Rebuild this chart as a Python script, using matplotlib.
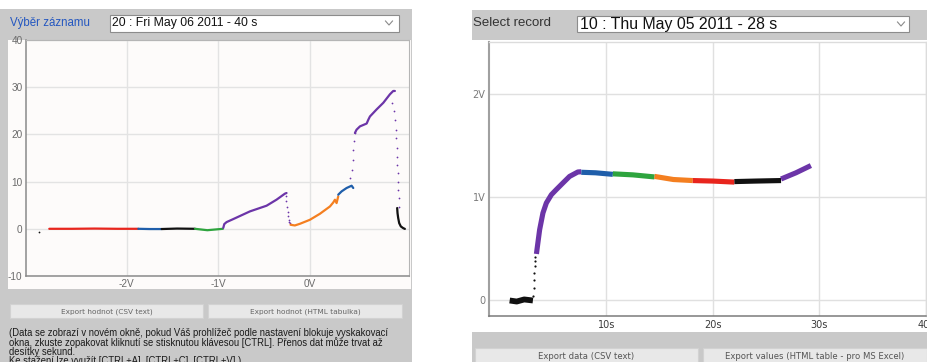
import matplotlib
matplotlib.use("Agg")
import matplotlib.pyplot as plt
from matplotlib.patches import Rectangle

W, H, DPI = 928, 362, 100

# ---------------- left record: 20 : Fri May 06 2011 - 40 s ----------------
# dense trace pieces (x in volts, y in measured units)
l_red_x = [-2.844, -2.60, -2.35, -2.10, -1.873]
l_red_y = [0.0, 0.0, 0.05, 0.0, 0.0]
l_blue_x = [-1.873, -1.75, -1.618]
l_blue_y = [0.0, -0.05, -0.05]
l_black_x = [-1.618, -1.45, -1.255]
l_black_y = [-0.05, 0.05, 0.0]
l_green_x = [-1.255, -1.12, -0.95]
l_green_y = [0.0, -0.3, 0.0]
l_purple_x = [-0.946, -0.935, -0.910, -0.837, -0.655, -0.474, -0.365, -0.274, -0.256]
l_purple_y = [0.2, 1.0, 1.42, 2.06, 3.69, 4.89, 6.17, 7.44, 7.58]
l_orange_x = [-0.212, -0.165, -0.110, -0.001, 0.108, 0.218, 0.254, 0.272, 0.290, 0.308]
l_orange_y = [0.85, 0.71, 1.06, 1.91, 3.18, 4.74, 5.59, 6.16, 5.45, 6.87]
l_blue2_x = [0.308, 0.345, 0.399, 0.454, 0.472]
l_blue2_y = [7.22, 7.93, 8.64, 9.13, 8.64]
l_purple2_x = [0.490, 0.508, 0.545, 0.618, 0.636, 0.654, 0.727, 0.800, 0.872, 0.908, 0.926]
l_purple2_y = [20.3, 21.0, 21.7, 22.3, 23.1, 23.8, 25.3, 26.7, 28.5, 29.2, 29.2]
l_black2_x = [0.951, 0.955, 0.962, 0.973, 0.991, 1.017, 1.035]
l_black2_y = [4.4, 3.3, 2.3, 1.2, 0.5, 0.14, -0.02]

# sparse samples (fast transitions)
l_dot_x = [-2.953]
l_dot_y = [-0.71]
l_fall_x = [-0.263, -0.257, -0.251, -0.245, -0.238, -0.232, -0.225, -0.219]
l_fall_y = [6.86, 5.8, 4.7, 3.6, 2.75, 1.9, 1.5, 1.2]
l_jump_x = [0.436, 0.454, 0.465, 0.472, 0.480, 0.490]
l_jump_y = [10.76, 12.5, 14.6, 16.8, 18.5, 20.3]
l_drop_x = [0.900, 0.915, 0.926, 0.933, 0.937, 0.944, 0.948, 0.951, 0.955, 0.959, 0.963, 0.966, 0.966]
l_drop_y = [26.7, 24.9, 23.1, 21.0, 19.2, 17.1, 15.3, 13.6, 11.8, 10.0, 8.3, 6.5, 4.7]

l_xticks = [-2, -1, 0]
l_xlabels = ["-2V", "-1V", "0V"]
l_yticks = [-10, 0, 10, 20, 30, 40]
l_ylabels = ["-10", "0", "10", "20", "30", "40"]

# ---------------- right record: 10 : Thu May 05 2011 - 28 s ----------------
r_black_x = [0.94, 1.6, 2.3, 3.12]
r_black_y = [0.0, -0.01, 0.01, 0.0]
r_rise_x = [3.15, 3.18, 3.22, 3.25, 3.28, 3.31, 3.34]
r_rise_y = [0.04, 0.12, 0.20, 0.265, 0.33, 0.38, 0.42]
r_purple_x = [3.45, 3.50, 3.75, 4.06, 4.38, 4.85, 5.31, 5.93, 6.56, 7.34, 7.66]
r_purple_y = [0.45, 0.49, 0.684, 0.846, 0.943, 1.023, 1.072, 1.136, 1.20, 1.243, 1.245]
r_blue_x = [7.66, 9.0, 10.62]
r_blue_y = [1.24, 1.235, 1.22]
r_green_x = [10.62, 12.5, 14.53]
r_green_y = [1.225, 1.215, 1.195]
r_orange_x = [14.53, 16.3, 18.12]
r_orange_y = [1.20, 1.17, 1.16]
r_red_x = [18.12, 20.0, 22.02]
r_red_y = [1.16, 1.155, 1.145]
r_black2_x = [22.02, 24.0, 26.4]
r_black2_y = [1.15, 1.155, 1.16]
r_purple2_x = [26.4, 27.8, 29.2]
r_purple2_y = [1.175, 1.235, 1.305]

r_xticks = [10, 20, 30, 40]
r_xlabels = ["10s", "20s", "30s", "40s"]
r_yticks = [0, 1, 2]
r_ylabels = ["0", "1V", "2V"]

RED, BLUE, BLACK, GREEN, PURPLE, ORANGE = "#e8251d", "#1f5eaa", "#111111", "#2ea43e", "#6c35a8", "#f47f20"
GRAY_BG = "#c9c9c9"

fig = plt.figure(figsize=(W / DPI, H / DPI), dpi=DPI)
fig.patch.set_facecolor("white")

# page canvas in pixel coordinates
bg = fig.add_axes([0, 0, 1, 1], zorder=0)
bg.set_xlim(0, W)
bg.set_ylim(H, 0)
bg.axis("off")


def rect(x0, y0, x1, y1, fc, ec="none", lw=0.8):
    bg.add_patch(Rectangle((x0, y0), x1 - x0, y1 - y0, facecolor=fc, edgecolor=ec, linewidth=lw))


def chevron(xc, yc, color="#8a8a8a"):
    bg.plot([xc - 3.5, xc, xc + 3.5], [yc - 2, yc + 2, yc - 2], color=color, lw=0.8)


# left panel frame
rect(0, 9, 412, 362, GRAY_BG)
rect(8, 40, 411, 289, "#fdfbfa")
bg.text(10, 23, "Výběr záznamu", fontsize=8.3, color="#2457c0", family="Liberation Sans", va="center")
rect(110, 14.5, 399, 31.5, "white", "#8c8c8c")
bg.text(112, 23, "20 : Fri May 06 2011 - 40 s", fontsize=8.8, color="#111111",
        family="Liberation Sans", va="center")
chevron(389, 23)
rect(10, 304, 203, 318, "#e8e8e8", "#d2d2d2")
rect(208, 304, 402, 318, "#e8e8e8", "#d2d2d2")
bg.text(106.5, 311.5, "Export hodnot (CSV text)", fontsize=5.3, color="#666666",
        family="DejaVu Sans", ha="center", va="center")
bg.text(305, 311.5, "Export hodnot (HTML tabulka)", fontsize=5.3, color="#666666",
        family="DejaVu Sans", ha="center", va="center")
para = [
    "(Data se zobrazí v novém okně, pokud Váš prohlížeč podle nastavení blokuje vyskakovací",
    "okna, zkuste zopakovat kliknutí se stisknutou klávesou [CTRL]. Přenos dat může trvat až",
    "desítky sekund.",
    "Ke stažení lze využít [CTRL+A], [CTRL+C], [CTRL+V].)",
]
for i, line in enumerate(para):
    bg.text(9, 333.0 + i * 9.4, line, fontsize=6.85, color="#1a1a1a",
            family="Liberation Sans", va="center")

# right panel frame
rect(472, 10, 928, 362, GRAY_BG)
rect(472, 40, 928, 332, "white")
bg.text(473, 23, "Select record", fontsize=9.5, color="#333333", family="Liberation Sans", va="center")
rect(577, 16, 909, 32.3, "white", "#8c8c8c")
bg.text(580, 24, "10 : Thu May 05 2011 - 28 s", fontsize=11.4, color="#111111",
        family="Liberation Sans", va="center")
chevron(901, 24)
rect(475, 348, 698, 366, "#e8e8e8", "#d2d2d2")
rect(703, 348, 927, 366, "#e8e8e8", "#d2d2d2")
bg.text(586.5, 356.5, "Export data (CSV text)", fontsize=6.1, color="#555555",
        family="DejaVu Sans", ha="center", va="center")
bg.text(815, 356.5, "Export values (HTML table - pro MS Excel)", fontsize=6.1, color="#555555",
        family="DejaVu Sans", ha="center", va="center")


def px_axes(x0, y0, x1, y1):
    return fig.add_axes([x0 / W, (H - y1) / H, (x1 - x0) / W, (y1 - y0) / H], zorder=2)


# ---------------- left chart ----------------
axl = px_axes(26, 40, 409, 276)
axl.set_facecolor("#fdfbfa")
axl.set_xlim(-3.098, 1.08)
axl.set_ylim(-10, 40)
axl.set_xticks(l_xticks, l_xlabels)
axl.set_yticks(l_yticks, l_ylabels)
axl.grid(True, color="#e3e3e3", lw=1.0)
axl.set_axisbelow(True)
axl.tick_params(length=0, labelsize=7.2, colors="#6a6a6a", pad=2.5)
for lab in axl.get_xticklabels() + axl.get_yticklabels():
    lab.set_family("Liberation Sans")
for side in ("left", "bottom"):
    axl.spines[side].set_color("#8a8a8a")
    axl.spines[side].set_linewidth(1.1)
for side in ("top", "right"):
    axl.spines[side].set_color("#b5b5b5")
    axl.spines[side].set_linewidth(0.8)

for xs, ys, c in [(l_red_x, l_red_y, RED), (l_blue_x, l_blue_y, BLUE), (l_black_x, l_black_y, BLACK),
                  (l_green_x, l_green_y, GREEN), (l_purple_x, l_purple_y, PURPLE),
                  (l_orange_x, l_orange_y, ORANGE), (l_blue2_x, l_blue2_y, BLUE),
                  (l_purple2_x, l_purple2_y, PURPLE), (l_black2_x, l_black2_y, BLACK)]:
    axl.plot(xs, ys, color=c, lw=1.6, solid_capstyle="round", solid_joinstyle="round")
for xs, ys, c in [(l_dot_x, l_dot_y, BLACK), (l_fall_x, l_fall_y, PURPLE),
                  (l_jump_x, l_jump_y, PURPLE), (l_drop_x, l_drop_y, PURPLE)]:
    axl.scatter(xs, ys, s=1.6, color=c, linewidths=0)

# ---------------- right chart ----------------
axr = px_axes(489, 42, 926, 316)
axr.set_facecolor("white")
axr.set_xlim(-1.0, 40.0)
axr.set_ylim(-0.15, 2.5)
axr.set_xticks(r_xticks, r_xlabels)
axr.set_yticks(r_yticks, r_ylabels)
axr.grid(True, color="#e0e0e0", lw=1.0)
axr.set_axisbelow(True)
axr.tick_params(axis="x", length=0, labelsize=7.0, colors="#3a3a3a", pad=3)
axr.tick_params(axis="y", length=0, labelsize=7.0, colors="#7a7a7a", pad=2.5)
for lab in axr.get_xticklabels() + axr.get_yticklabels():
    lab.set_family("DejaVu Sans")
for lab in axr.get_xticklabels():
    lab.set_clip_on(False)
axr.spines["left"].set_color("#a0a0a0")
axr.spines["left"].set_linewidth(1.5)
axr.spines["bottom"].set_color("#7a7a7a")
axr.spines["bottom"].set_linewidth(1.1)
for side in ("top", "right"):
    axr.spines[side].set_color("#dcdcdc")
    axr.spines[side].set_linewidth(1.0)

axr.plot(r_black_x, r_black_y, color=BLACK, lw=4.2, solid_capstyle="butt")
axr.scatter(r_rise_x, r_rise_y, s=2.5, color=BLACK, linewidths=0)
for xs, ys, c in [(r_purple_x, r_purple_y, PURPLE), (r_blue_x, r_blue_y, BLUE),
                  (r_green_x, r_green_y, GREEN), (r_orange_x, r_orange_y, ORANGE),
                  (r_red_x, r_red_y, RED), (r_black2_x, r_black2_y, BLACK),
                  (r_purple2_x, r_purple2_y, PURPLE)]:
    axr.plot(xs, ys, color=c, lw=3.7, solid_capstyle="butt", solid_joinstyle="round")

fig.savefig("out.png", dpi=DPI, facecolor=fig.get_facecolor())
